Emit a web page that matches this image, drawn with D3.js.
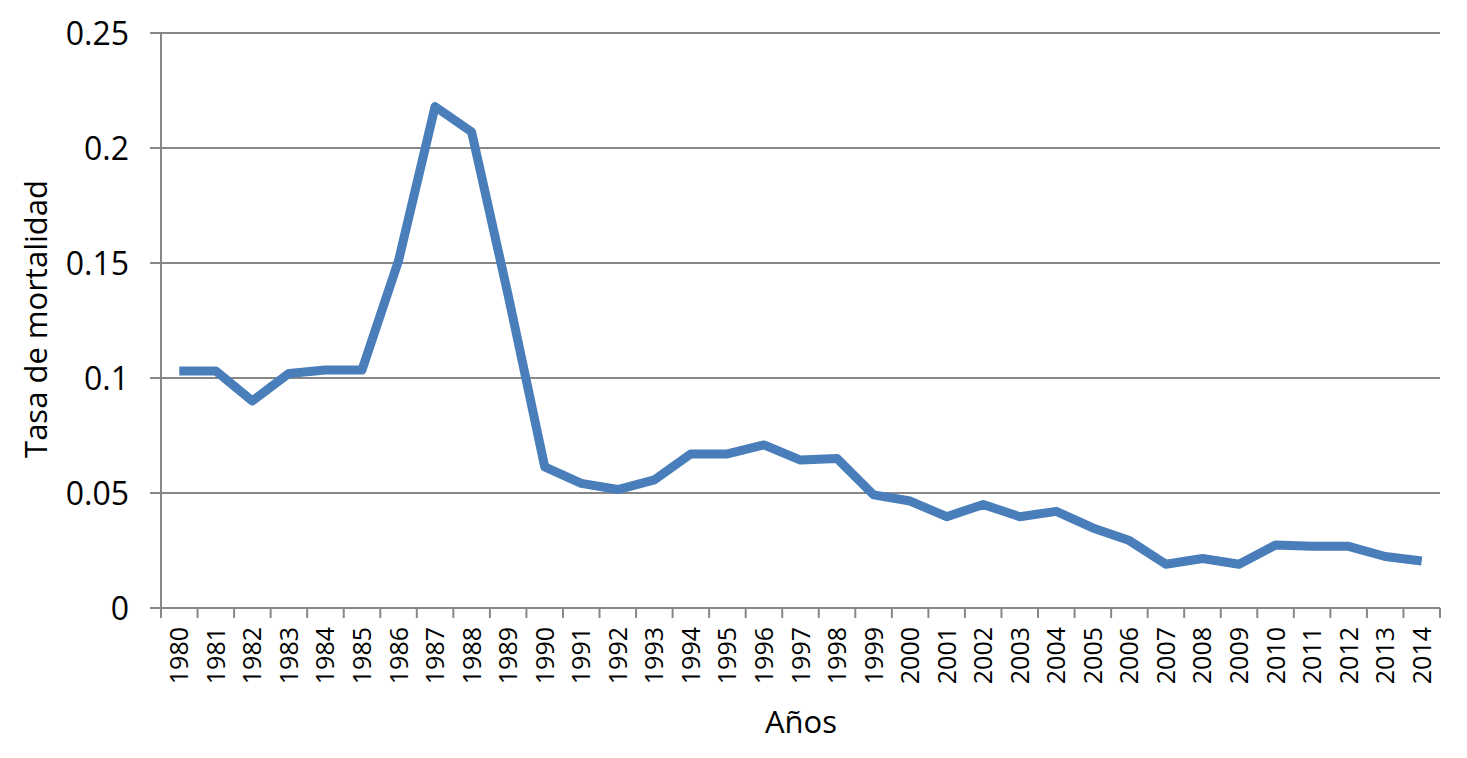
<!DOCTYPE html>
<html>
<head>
<meta charset="utf-8">
<script src="https://cdn.jsdelivr.net/npm/d3@7"></script>
<style>
  html, body { margin: 0; padding: 0; background: #fff; }
  svg { display: block; }
</style>
</head>
<body>
<svg id="chart" width="1467" height="758"></svg>
<script>
const years = ["1980","1981","1982","1983","1984","1985","1986","1987","1988","1989",
  "1990","1991","1992","1993","1994","1995","1996","1997","1998","1999",
  "2000","2001","2002","2003","2004","2005","2006","2007","2008","2009",
  "2010","2011","2012","2013","2014"];
const mortalidad = [0.103, 0.103, 0.090, 0.102, 0.1035, 0.1035, 0.151, 0.218, 0.207, 0.136,
  0.0614, 0.0542, 0.0515, 0.0557, 0.0670, 0.0670, 0.0709, 0.0643, 0.0650, 0.0492,
  0.0465, 0.0397, 0.0450, 0.0397, 0.0420, 0.0348, 0.0293, 0.0190, 0.0215, 0.0190,
  0.0274, 0.0268, 0.0268, 0.0224, 0.0204];
const yTicks = [0, 0.05, 0.1, 0.15, 0.2, 0.25];
const yTickLabels = ["0", "0.05", "0.1", "0.15", "0.2", "0.25"];
const xTitle = "Años";
const yTitle = "Tasa de mortalidad";

(function () {
const svg = d3.select("#chart");
const mLeft = 161, mRight = 1440, mTop = 33, mBottom = 608;
const grey = "#878787";

const x = d3.scaleBand().domain(years).range([mLeft, mRight]).padding(0);
const y = d3.scaleLinear().domain([0, 0.25]).range([mBottom, mTop]);

// gridlines
svg.append("g").selectAll("line").data(yTicks).join("line")
  .attr("x1", 150).attr("x2", mRight)
  .attr("y1", d => y(d)).attr("y2", d => y(d))
  .attr("stroke", grey).attr("stroke-width", 2);

// y axis line
svg.append("line").attr("x1", mLeft).attr("x2", mLeft)
  .attr("y1", mTop).attr("y2", mBottom + 10)
  .attr("stroke", grey).attr("stroke-width", 2);

// y tick labels
svg.append("g").selectAll("text").data(yTicks).join("text")
  .attr("x", 129).attr("y", d => y(d))
  .attr("dy", "0.36em")
  .attr("text-anchor", "end")
  .attr("font-family", "Open Sans, sans-serif")
  .attr("font-size", 32)
  .attr("fill", "#000")
  .text((d, i) => yTickLabels[i]);

// x tick marks at category boundaries
const bounds = years.map(d => x(d)).concat([mRight]);
svg.append("g").selectAll("line").data(bounds).join("line")
  .attr("x1", d => d).attr("x2", d => d)
  .attr("y1", mBottom).attr("y2", mBottom + 10)
  .attr("stroke", grey).attr("stroke-width", 2);

// x tick labels rotated
svg.append("g").selectAll("text").data(years).join("text")
  .attr("transform", d => `translate(${x(d) + x.bandwidth() / 2},${mBottom + 19}) rotate(-90)`)
  .attr("dy", "0.36em")
  .attr("text-anchor", "end")
  .attr("font-family", "Open Sans, sans-serif")
  .attr("font-size", 25)
  .attr("fill", "#000")
  .text(d => d);

// line
const line = d3.line()
  .x((d, i) => x(years[i]) + x.bandwidth() / 2)
  .y(d => y(d));
svg.append("path").datum(mortalidad)
  .attr("d", line)
  .attr("fill", "none")
  .attr("stroke", "#4a7ebb")
  .attr("stroke-width", 9)
  .attr("stroke-linejoin", "round")
  .attr("stroke-linecap", "butt");

// axis titles
svg.append("text")
  .attr("x", 801).attr("y", 733)
  .attr("text-anchor", "middle")
  .attr("font-family", "Open Sans, sans-serif")
  .attr("font-size", 31)
  .attr("fill", "#000")
  .text(xTitle);

svg.append("text")
  .attr("transform", `translate(47,319) rotate(-90)`)
  .attr("text-anchor", "middle")
  .attr("font-family", "Open Sans, sans-serif")
  .attr("font-size", 31)
  .attr("fill", "#000")
  .text(yTitle);
})();
</script>
</body>
</html>
